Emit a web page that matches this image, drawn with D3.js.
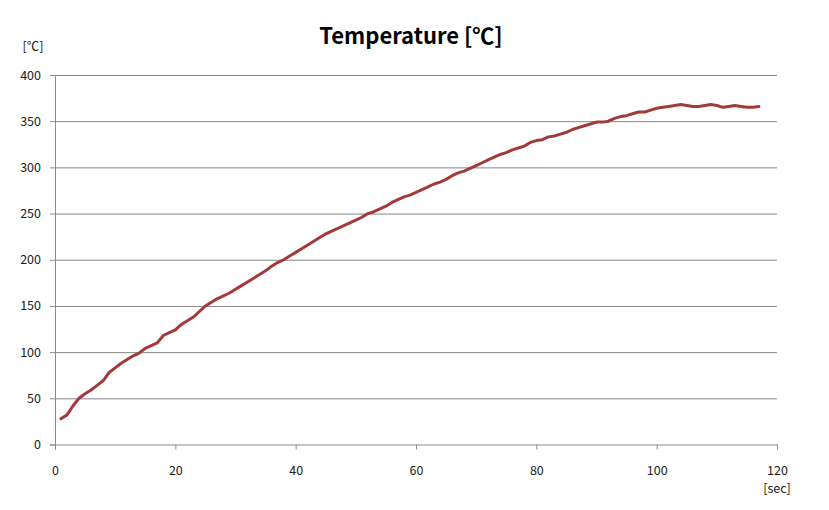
<!DOCTYPE html>
<html>
<head>
<meta charset="utf-8">
<script src="https://cdn.jsdelivr.net/npm/d3@7"></script>
<style>
  body { margin: 0; background: #fff; }
  svg text { font-family: "Noto Sans CJK KR", "Open Sans", sans-serif; fill: #222; }
</style>
</head>
<body>
<div class="chart"></div>
<script>
// Chart size
const width = 829;
const height = 510;
const margin = {top: 75, right: 52, bottom: 65.5, left: 55};
const inner_width = width - margin.left - margin.right;
const inner_height = height - margin.top - margin.bottom;

// Data: seconds and temperature
const seconds = d3.range(1, 118);
const temps = [
  28, 32, 42, 50, 55, 59, 64, 69, 78, 83,
  88, 92, 96, 99, 104, 107, 110, 118, 121, 124,
  130, 134, 138, 144, 150, 154, 158, 161, 164, 168,
  172, 176, 180, 184, 188, 193, 197, 200, 204, 208,
  212, 216, 220, 224, 228, 231, 234, 237, 240, 243,
  246, 250, 252, 255, 258, 262, 265, 268, 270, 273,
  276, 279, 282, 284, 287, 291, 294, 296, 299, 302,
  305, 308, 311, 314, 316, 319, 321, 323, 327, 329,
  330, 333, 334, 336, 338, 341, 343, 345, 347, 349,
  349, 350, 353, 355, 356, 358, 360, 360, 362, 364,
  365, 366, 367, 368, 367, 366, 366, 367, 368, 367,
  365, 366, 367, 366, 365, 365, 366
];
const x_ticks = [0, 20, 40, 60, 80, 100, 120];
const y_ticks = [0, 50, 100, 150, 200, 250, 300, 350, 400];

const title = 'Temperature [\u2103]';
const x_unit = '[sec]';
const y_unit = '[\u2103]';

const points = seconds.map((s, i) => ({sec: s, temp: temps[i]}));

const svg = d3.select('.chart').append('svg')
    .attr('width', width)
    .attr('height', height);

const xScale = d3.scaleLinear().domain([0, 120]).range([0, inner_width]);
const yScale = d3.scaleLinear().domain([0, 400]).range([inner_height, 0]);

const chart = svg.append('g').attr('transform', `translate(${margin.left}, ${margin.top})`);

// Y axis
chart.append('g')
    .call(d3.axisLeft(yScale).tickValues(y_ticks).tickSize(5).tickPadding(9))
    .call(g => g.select('.domain').attr('stroke', '#8c8c8c'))
    .call(g => g.selectAll('.tick line').attr('stroke', '#8c8c8c'))
    .call(g => g.selectAll('.tick text').style('font-size', '12.5px'));

// Gridlines
chart.append('g')
    .selectAll('line')
    .data(y_ticks.filter(d => d > 0))
    .join('line')
        .attr('x1', 0)
        .attr('x2', inner_width)
        .attr('y1', d => yScale(d) + 0.5)
        .attr('y2', d => yScale(d) + 0.5)
        .attr('stroke', '#868686');

// X axis
chart.append('g')
    .attr('transform', `translate(0, ${inner_height})`)
    .call(d3.axisBottom(xScale).tickValues(x_ticks).tickSize(5).tickPadding(17))
    .call(g => g.select('.domain').attr('stroke', '#8c8c8c'))
    .call(g => g.selectAll('.tick line').attr('stroke', '#8c8c8c'))
    .call(g => g.selectAll('.tick text').style('font-size', '12.5px'));

// Line
const line = d3.line()
    .x(d => xScale(d.sec))
    .y(d => yScale(d.temp));

chart.append('path')
    .datum(points)
    .attr('d', line)
    .attr('fill', 'none')
    .attr('stroke', '#a23a3c')
    .attr('stroke-width', 3)
    .attr('stroke-linejoin', 'round')
    .attr('stroke-linecap', 'round');

// Title and units
svg.append('text')
    .attr('x', 411)
    .attr('y', 44)
    .attr('text-anchor', 'middle')
    .style('font-size', '22px')
    .style('font-weight', 'bold')
    .style('fill', '#000')
    .text(title);

svg.append('text')
    .attr('x', 33)
    .attr('y', 51)
    .attr('text-anchor', 'middle')
    .style('font-size', '12.5px')
    .text(y_unit);

svg.append('text')
    .attr('x', margin.left + inner_width)
    .attr('y', 493)
    .attr('text-anchor', 'middle')
    .style('font-size', '12.5px')
    .text(x_unit);
</script>
</body>
</html>
